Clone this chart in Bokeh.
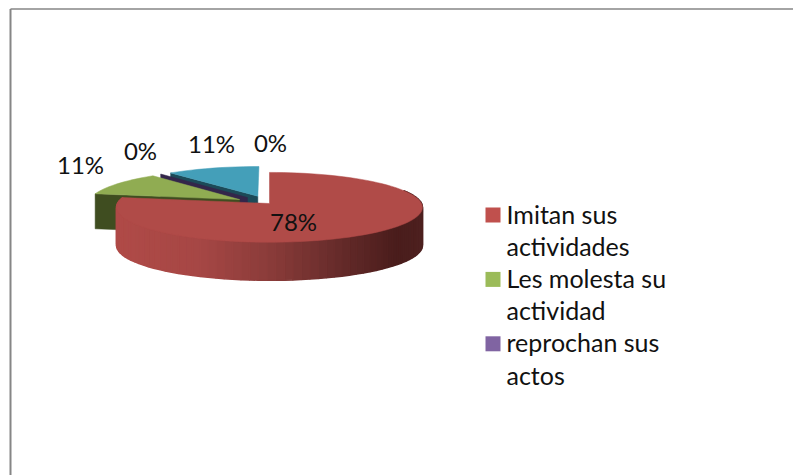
import numpy as np
from bokeh.plotting import figure
from bokeh.embed import file_html
from bokeh.resources import INLINE
from bokeh.core.properties import value
from bokeh.models import Range1d

# ---- data ----
categories = ["Imitan sus actividades", "Les molesta  su actividad", "reprochan sus actos", "Otros", "Ninguno"]
shares = [77.8, 11.1, 0.0, 11.1, 0.0]
pct_labels = ["78%", "11%", "0%", "11%", "0%"]
legend_lines = [["Imitan sus", "actividades"], ["Les molesta  su", "actividad"], ["reprochan sus", "actos"]]

# ---- style / layout (page pixels) ----
W, H = 793, 475
OX, OY = 0, 0
top_cols = ["#B04B48", "#90AC52", "#5E4A7C", "#449FB9", "#449FB9"]
side_cols = ["#6E2E2C", "#3F4D20", "#33264A", "#1C4A58", "#1C4A58"]
red_stops = [(116, "#B04B48"), (200, "#A64745"), (270, "#8A3C3A"), (340, "#652B2A"), (395, "#4A1D1C"), (422, "#4E2120")]
legend_cols = ["#C0504D", "#9BBB59", "#8064A2"]
label_xy = [(293, 221), (80, 164), (140, 150), (211, 143), (270, 142)]
CX, CY, A, B, K, DEPTH, EXPL = 269, 203, 152, 34.5, 0.11, 38, 0.23

p = figure(width=W, height=H, output_backend="svg", toolbar_location=None,
           x_range=Range1d(OX, OX + W), y_range=Range1d(OY + H, OY),
           min_border=0, outline_line_color=None, background_fill_color="white",
           border_fill_color="white")
p.axis.visible = False
p.grid.visible = False

def proj(u, v):
    w = 1 + K * v
    return CX + A * u / w, CY - B * v / w

def hexrgb(h):
    return np.array([int(h[i:i + 2], 16) for i in (1, 3, 5)], float)

def red_col(x):
    xs = [s[0] for s in red_stops]
    rgb = [np.interp(x, xs, [hexrgb(s[1])[i] for s in red_stops]) for i in range(3)]
    return "#%02x%02x%02x" % tuple(int(c) for c in rgb)

# slice geometry from the data
edges = np.cumsum([0] + shares) / sum(shares) * 2 * np.pi
slices = []
for i in range(len(shares)):
    t0, t1 = edges[i], edges[i + 1]
    mid = (t0 + t1) / 2
    d = 0 if i == 0 else EXPL
    du, dv = d * np.sin(mid), d * np.cos(mid)
    ts = np.linspace(t0, t1, max(2, int((t1 - t0) * 20)))
    ox, oy = proj(np.sin(ts) + du, np.cos(ts) + dv)
    ax, ay = proj(du, dv)
    slices.append(dict(ox=ox, oy=oy, ax=ax, ay=ay))

def face(s, idx, col, depth=DEPTH):
    p.patch([s["ax"], s["ox"][idx], s["ox"][idx], s["ax"]],
            [s["ay"], s["oy"][idx], s["oy"][idx] + depth, s["ay"] + depth],
            fill_color=col, line_color=col, line_width=0.5)

def top(s, col):
    p.patch([s["ax"], *s["ox"]], [s["ay"], *s["oy"]], fill_color=col, line_color=col, line_width=0.5)

# back to front: blue, its cut face, purple sliver, green, red
for i in (4, 3):
    s = slices[i]
    if shares[i] > 0:
        face(s, 0, side_cols[i])
        top(s, top_cols[i])
s = slices[2]
face(s, 0, side_cols[2])
s = slices[1]
face(s, 0, side_cols[1], depth=35)
top(s, top_cols[1])

# red wall with its horizontal shading: one quad per arc step, painted solid
s = slices[0]
xs, ys = s["ox"], s["oy"]
for j in range(len(xs) - 1):
    if ys[j] > CY - 12 or ys[j + 1] > CY - 12:
        c = red_col((xs[j] + xs[j + 1]) / 2)
        p.patch([xs[j], xs[j + 1], xs[j + 1], xs[j]],
                [ys[j], ys[j + 1], ys[j + 1] + DEPTH, ys[j] + DEPTH],
                fill_color=c, line_color=c, line_width=1.6)
top(s, top_cols[0])

# labels
p.text([q[0] for q in label_xy], [q[1] for q in label_xy], text=pct_labels,
       text_align="center", text_baseline="middle", text_font=value("Lato"),
       text_font_size="24px", text_color="#111111")

# legend
lx0, ly0, step = 506, 222, 32.2
text_shift = -9
for n, lines in enumerate(legend_lines):
    yy = ly0 + n * 2 * step
    p.rect([492.5], [yy - 7.5], width=15, height=15, fill_color=legend_cols[n], line_color=None)
    p.text([lx0, lx0], [yy + text_shift, yy + step + text_shift], text=lines, text_align="left",
           text_baseline="alphabetic", text_font=value("Lato"), text_font_size="25px", text_color="#111111")

# frame: only the top and left edges are in the picture
fx0, fy0 = 10, 8.5
p.line([fx0, fx0], [OY + H, fy0], line_color="#868686", line_width=2)
p.line([fx0, OX + W], [fy0, fy0], line_color="#868686", line_width=1.5)

open("out.html", "w").write(file_html(p, INLINE))
